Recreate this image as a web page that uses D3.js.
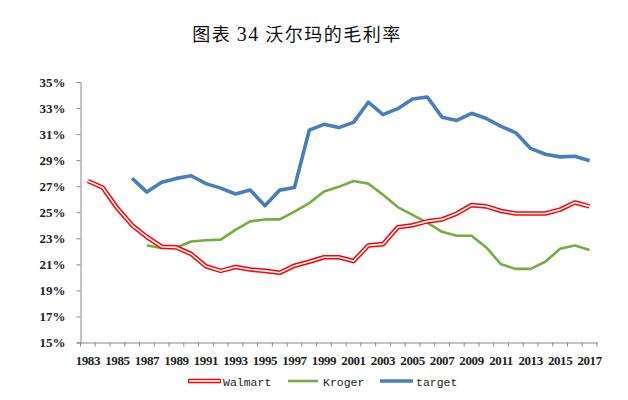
<!DOCTYPE html>
<html>
<head>
<meta charset="utf-8">
<script src="https://cdn.jsdelivr.net/npm/d3@7"></script>
<style>
html,body{margin:0;padding:0;background:#fff;}
svg{display:block;}
</style>
</head>
<body>
<script>
const years = d3.range(1983, 2018).map(String);
const walmart = [27.4,26.9,25.3,24.0,23.1,22.35,22.3,21.8,20.85,20.5,20.8,20.6,20.5,20.35,20.9,21.2,21.55,21.55,21.25,22.45,22.55,23.85,24.0,24.3,24.45,24.9,25.55,25.45,25.1,24.9,24.9,24.9,25.2,25.75,25.45];
const kroger = [null,null,null,null,22.45,22.25,22.3,22.75,22.85,22.9,23.65,24.3,24.45,24.45,25.05,25.7,26.6,26.95,27.4,27.2,26.35,25.4,24.8,24.2,23.5,23.2,23.2,22.3,21.0,20.65,20.65,21.2,22.2,22.45,22.1];
const target = [null,null,null,27.6,26.55,27.3,27.6,27.8,27.2,26.85,26.4,26.7,25.5,26.7,26.9,31.3,31.75,31.5,31.9,33.45,32.5,32.95,33.7,33.85,32.3,32.05,32.6,32.2,31.6,31.1,29.9,29.45,29.25,29.3,28.95];
const yTicks = [15,17,19,21,23,25,27,29,31,33,35];
const xLabels = years.filter((d,i)=>i%2===0);
const seriesNames = ["Walmart","Kroger","target"];
const titleParts = ["图表 ","34"," 沃尔玛的毛利率"];

const W = 628, H = 400;
const svg = d3.select("body").append("svg").attr("width",W).attr("height",H);

const x = d3.scaleBand().domain(years).range([80.5, 597]);
const y = d3.scaleLinear().domain([15,35]).range([342.5, 82]);
const axisColor = "#888888";

// title
const title = svg.append("text").attr("x", 297).attr("y", 41).attr("text-anchor","middle")
  .attr("font-family","'Noto Sans CJK SC', 'Noto Sans CJK JP', serif")
  .attr("font-size", 18).attr("letter-spacing", 1.5).attr("fill","#111");
titleParts.forEach((t,i)=>{
  const ts = title.append("tspan").text(t);
  if (i===1) ts.attr("font-family","'Liberation Serif', serif").attr("font-size",20);
});

// y axis
const yAxis = svg.append("g").attr("transform","translate(80.5,0)")
  .call(d3.axisLeft(y).tickValues(yTicks).tickSize(4).tickPadding(10).tickFormat(d=>d+"%"));
yAxis.select(".domain").attr("stroke",axisColor);
yAxis.selectAll(".tick line").attr("stroke",axisColor);
yAxis.selectAll("text").attr("font-family","'Liberation Serif', serif").attr("font-size",13)
  .attr("font-weight","bold").attr("fill","#222").attr("dx", -1);

// x axis
const xAxis = svg.append("g").attr("transform","translate(0,342.5)")
  .call(d3.axisBottom(x).tickValues([]).tickSizeOuter(0));
xAxis.select(".domain").attr("stroke",axisColor);
const bounds = years.map(d=>x(d)).concat([x(years[years.length-1])+x.bandwidth()]);
xAxis.selectAll("line.bt").data(bounds).enter().append("line").attr("class","bt")
  .attr("x1",d=>d).attr("x2",d=>d).attr("y1",0).attr("y2",4).attr("stroke",axisColor);
xAxis.selectAll("text.xl").data(xLabels).enter().append("text").attr("class","xl")
  .attr("x",d=>x(d)+x.bandwidth()/2).attr("y",22).attr("text-anchor","middle")
  .attr("font-family","'Liberation Serif', serif").attr("font-size",13).attr("font-weight","bold")
  .attr("letter-spacing",-0.4).attr("fill","#222").text(d=>d);

const line = d3.line().defined(d=>d.v!=null).x(d=>x(d.year)+x.bandwidth()/2).y(d=>y(d.v));
const mk = arr => years.map((yr,i)=>({year:yr, v:arr[i]}));

svg.append("path").datum(mk(kroger)).attr("d",line).attr("fill","none")
  .attr("stroke","#77AC45").attr("stroke-width",2.6).attr("stroke-linejoin","round");
svg.append("path").datum(mk(target)).attr("d",line).attr("fill","none")
  .attr("stroke","#4A7EBB").attr("stroke-width",3.6).attr("stroke-linejoin","round");
svg.append("path").datum(mk(walmart)).attr("d",line).attr("fill","none")
  .attr("stroke","#FF0000").attr("stroke-width",4.6).attr("stroke-linejoin","round");
svg.append("path").datum(mk(walmart)).attr("d",line).attr("fill","none")
  .attr("stroke","#ffffff").attr("stroke-width",1.6).attr("stroke-linejoin","round");

// legend
const legend = [
  {name:seriesNames[0], x1:188, x2:221, tx:223},
  {name:seriesNames[1], x1:288, x2:318, tx:323},
  {name:seriesNames[2], x1:380, x2:413, tx:416}
];
const ly = 381;
const lg = svg.append("g");
lg.append("line").attr("x1",legend[0].x1).attr("x2",legend[0].x2).attr("y1",ly).attr("y2",ly)
  .attr("stroke","#FF0000").attr("stroke-width",4.6);
lg.append("line").attr("x1",legend[0].x1+1).attr("x2",legend[0].x2-1).attr("y1",ly).attr("y2",ly)
  .attr("stroke","#fff").attr("stroke-width",1.6);
lg.append("line").attr("x1",legend[1].x1).attr("x2",legend[1].x2).attr("y1",ly).attr("y2",ly)
  .attr("stroke","#77AC45").attr("stroke-width",2.6);
lg.append("line").attr("x1",legend[2].x1).attr("x2",legend[2].x2).attr("y1",ly).attr("y2",ly)
  .attr("stroke","#4A7EBB").attr("stroke-width",3.6);
lg.selectAll("text").data(legend).enter().append("text")
  .attr("x",d=>d.tx).attr("y",ly+4.5)
  .attr("font-family","'Liberation Mono', monospace").attr("font-size",11.5).attr("fill","#222")
  .text(d=>d.name);
</script>
</body>
</html>
